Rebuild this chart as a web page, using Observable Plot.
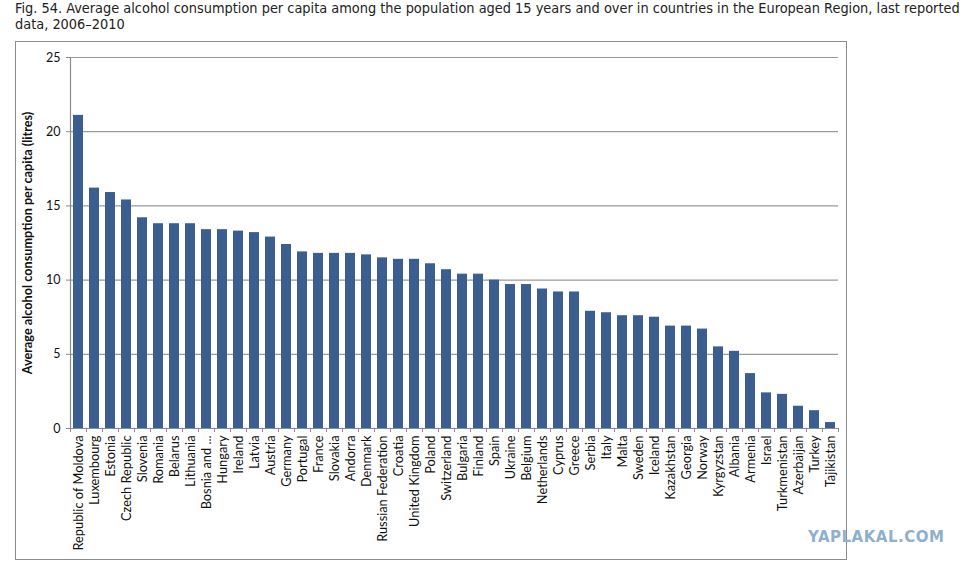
<!DOCTYPE html>
<html>
<head>
<meta charset="utf-8">
<script src="https://cdn.jsdelivr.net/npm/d3@7"></script>
<script src="https://cdn.jsdelivr.net/npm/@observablehq/plot@0.6"></script>
<style>
  html, body { margin: 0; padding: 0; background: #fff; width: 971px; height: 568px; overflow: hidden; }
  #wrap { position: relative; width: 971px; height: 568px; }
  #title { position: absolute; left: 15px; top: 0px; font-family: "DejaVu Sans Condensed", "DejaVu Sans", sans-serif; font-size: 14.4px; line-height: 16px; color: #222; white-space: nowrap; }
  #frame { position: absolute; left: 15px; top: 41px; width: 830px; height: 517px; border: 1.5px solid #8c8c8c; }
  #chart { position: absolute; left: 0; top: 0; }
  #wm { position: absolute; left: 808px; top: 528px; font-family: "DejaVu Sans", sans-serif; font-weight: bold; font-size: 15px; color: #8fb0cc; letter-spacing: 0.5px; }
</style>
</head>
<body>
<div id="wrap">
  <div id="title">Fig. 54. Average alcohol consumption per capita among the population aged 15 years and over in countries in the European Region, last reported<br>data, 2006–2010</div>
  <div id="frame"></div>
  <div id="chart"></div>
  <div id="wm">YAPLAKAL.COM</div>
</div>
<script>
const countries = [
  "Republic of Moldova", "Luxembourg", "Estonia", "Czech Republic", "Slovenia", "Romania",
  "Belarus", "Lithuania", "Bosnia and ...", "Hungary", "Ireland", "Latvia", "Austria",
  "Germany", "Portugal", "France", "Slovakia", "Andorra", "Denmark", "Russian Federation",
  "Croatia", "United Kingdom", "Poland", "Switzerland", "Bulgaria", "Finland", "Spain",
  "Ukraine", "Belgium", "Netherlands", "Cyprus", "Greece", "Serbia", "Italy", "Malta",
  "Sweden", "Iceland", "Kazakhstan", "Georgia", "Norway", "Kyrgyzstan", "Albania",
  "Armenia", "Israel", "Turkmenistan", "Azerbaijan", "Turkey", "Tajikistan"
];
const values = [
  21.1, 16.2, 15.9, 15.4, 14.2, 13.8,
  13.8, 13.8, 13.4, 13.4, 13.3, 13.2, 12.9,
  12.4, 11.9, 11.8, 11.8, 11.8, 11.7, 11.5,
  11.4, 11.4, 11.1, 10.7, 10.4, 10.4, 10.0,
  9.7, 9.7, 9.4, 9.2, 9.2, 7.9, 7.8, 7.6,
  7.6, 7.5, 6.9, 6.9, 6.7, 5.5, 5.2,
  3.7, 2.4, 2.3, 1.5, 1.2, 0.4
];
const yTicks = [0, 5, 10, 15, 20, 25];
const yLabel = "Average alcohol consumption per capita (litres)";

const data = countries.map((c, i) => ({country: c, value: values[i]}));
const lastCountry = countries[countries.length - 1];

const chart = Plot.plot({
  width: 971,
  height: 568,
  marginTop: 57,
  marginLeft: 70,
  marginRight: 133,
  marginBottom: 140,
  style: {fontFamily: "Lato, 'Open Sans', sans-serif", fontSize: "12px", background: "transparent", color: "#111", overflow: "visible"},
  x: {domain: countries, paddingInner: 0.375, paddingOuter: 0.1875, label: null},
  y: {domain: [0, 25], label: null},
  marks: [
    Plot.gridY(yTicks, {stroke: "#9a9a9a", strokeOpacity: 1, strokeWidth: 1.2}),
    Plot.barY(data, {x: "country", y: "value", fill: "#3b5e91"}),
    Plot.ruleY([0], {stroke: "#8c8c8c", strokeWidth: 1.2}),
    Plot.ruleX([countries[0]], {dx: -8, stroke: "#8c8c8c", strokeWidth: 1.2}),
    Plot.axisX({tickSize: 4, text: null, dx: -8, stroke: "#8c8c8c", label: null}),
    Plot.axisX([lastCountry], {tickSize: 4, text: null, dx: 8, stroke: "#8c8c8c", label: null}),
    Plot.axisX({tickSize: 0, tickRotate: -90, tickPadding: 7, fontSize: 12.8, fill: "#111", label: null}),
    Plot.axisY(yTicks, {tickSize: 4, tickPadding: 6, fontSize: 12.5, fill: "#111", stroke: "#8c8c8c", label: null}),
    Plot.text([yLabel], {frameAnchor: "left", textAnchor: "middle", rotate: -90, dx: -43, fontWeight: "bold", fontSize: 12.7, fill: "#111"})
  ]
});
document.getElementById("chart").appendChild(chart);
</script>
</body>
</html>
